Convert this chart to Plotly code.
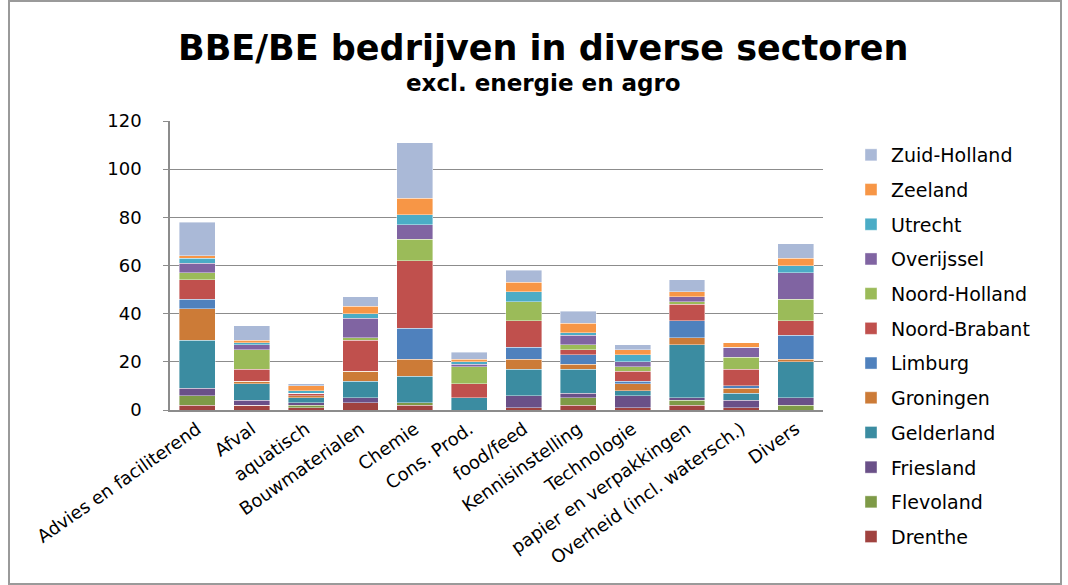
import plotly.graph_objects as go

categories = ["Advies en faciliterend", "Afval", "aquatisch", "Bouwmaterialen", "Chemie",
              "Cons. Prod.", "food/feed", "Kennisinstelling", "Technologie",
              "papier en verpakkingen", "Overheid (incl. watersch.)", "Divers"]

drenthe = [2, 2, 1, 3, 2, 0, 1, 2, 1, 2, 1, 0]
flevoland = [4, 0, 1, 0, 1, 0, 0, 3, 0, 2, 0, 2]
friesland = [3, 2, 1, 2, 0, 0, 5, 2, 5, 1, 3, 3]
gelderland = [20, 7, 2, 7, 11, 5, 11, 10, 2, 22, 3, 15]
groningen = [13, 1, 1, 4, 7, 0, 4, 2, 3, 3, 2, 1]
limburg = [4, 0, 0, 0, 13, 0, 5, 4, 1, 7, 1, 10]
noord_brabant = [8, 5, 1, 13, 28, 6, 11, 2, 4, 7, 7, 6]
noord_holland = [3, 8, 0, 1, 9, 7, 8, 2, 2, 1, 5, 9]
overijssel = [4, 2, 0, 8, 6, 1, 0, 4, 2, 2, 4, 11]
utrecht = [2, 1, 1, 2, 4, 1, 4, 1, 3, 0, 0, 3]
zeeland = [1, 1, 2, 3, 7, 1, 4, 4, 2, 2, 2, 3]
zuid_holland = [14, 6, 1, 4, 23, 3, 5, 5, 2, 5, 0, 6]

series = [
    ("Drenthe", drenthe, "#A0423F"),
    ("Flevoland", flevoland, "#7E9A47"),
    ("Friesland", friesland, "#6A5088"),
    ("Gelderland", gelderland, "#3B8CA1"),
    ("Groningen", groningen, "#CC7B37"),
    ("Limburg", limburg, "#4F81BD"),
    ("Noord-Brabant", noord_brabant, "#C0504D"),
    ("Noord-Holland", noord_holland, "#9BBB59"),
    ("Overijssel", overijssel, "#8064A2"),
    ("Utrecht", utrecht, "#4BACC6"),
    ("Zeeland", zeeland, "#F79646"),
    ("Zuid-Holland", zuid_holland, "#AAB9D7"),
]

FONT = "DejaVu Sans"

fig = go.Figure()
n = len(series)
for i, (name, vals, col) in enumerate(series):
    fig.add_trace(go.Bar(
        x=categories, y=vals, name=name, legendgroup=name, legendrank=n - i,
        marker=dict(color=col, line=dict(color="rgba(255,255,255,0.5)", width=0.8)),
    ))

# plot area geometry (pixels)
L, R, T, B = 170, 245, 121, 175
W, H = 1068, 585
pw, ph = W - L - R, H - T - B


def px(x):
    return (x - L) / pw


def py(y):
    return (H - B - y) / ph


fig.update_layout(
    width=W, height=H,
    margin=dict(l=L, r=R, t=T, b=B, autoexpand=False),
    paper_bgcolor="white", plot_bgcolor="white",
    barmode="stack", bargap=0.34,
    font=dict(family=FONT, color="black", size=16),
    showlegend=True,
    legend=dict(
        traceorder="grouped", tracegroupgap=7, maxheight=520,
        x=px(851), xanchor="left", y=py(136), yanchor="top",
        font=dict(family=FONT, size=19, color="black"),
        itemwidth=30, bgcolor="rgba(0,0,0,0)",
    ),
    xaxis=dict(
        tickangle=-35, showline=True, linecolor="#8C8C8C", linewidth=1.5,
        tickfont=dict(family=FONT, size=18), ticks="", showgrid=False,
    ),
    yaxis=dict(
        range=[0, 120], dtick=20, showgrid=True, gridcolor="#8C8C8C", gridwidth=1.2,
        showline=True, linecolor="#8C8C8C", linewidth=1.5,
        ticks="outside", ticklen=5, tickcolor="#8C8C8C",
        ticklabelstandoff=18, tickfont=dict(family=FONT, size=18), zeroline=False,
    ),
    annotations=[
        dict(text="<b>BBE/BE bedrijven in diverse sectoren</b>", xref="paper", yref="paper",
             x=px(543), y=py(48), xanchor="center", yanchor="middle", showarrow=False,
             font=dict(family=FONT, size=35, color="black")),
        dict(text="<b>excl. energie en agro</b>", xref="paper", yref="paper",
             x=px(543), y=py(83), xanchor="center", yanchor="middle", showarrow=False,
             font=dict(family=FONT, size=23, color="black")),
    ],
    shapes=[
        dict(type="rect", xref="paper", yref="paper",
             x0=px(9), x1=px(1061), y0=py(584), y1=py(1),
             line=dict(color="#9A9A9A", width=2), fillcolor="rgba(0,0,0,0)", layer="below"),
    ],
)

fig.write_html("out.html")
